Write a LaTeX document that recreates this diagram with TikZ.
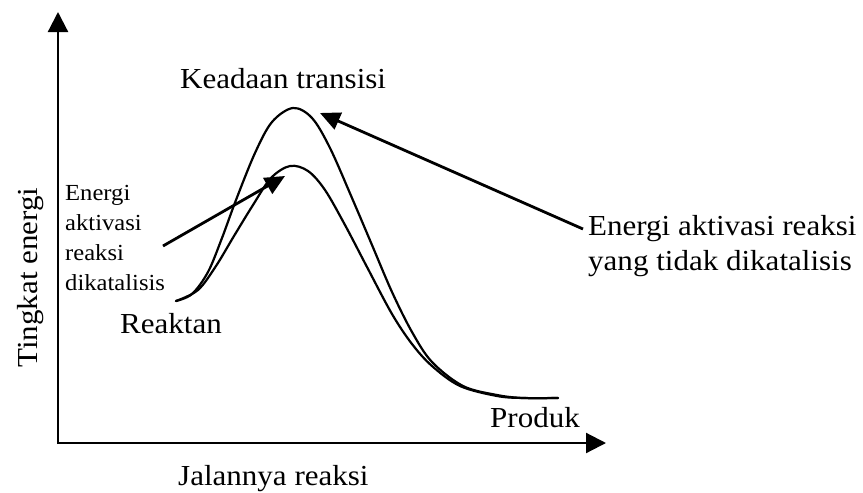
\documentclass[tikz,border=0pt]{standalone}
\usepackage{fontspec}
\setmainfont{Liberation Serif}[FakeStretch=1.07]
\usetikzlibrary{arrows.meta}
\begin{document}
\begin{tikzpicture}[x=1pt,y=-1pt,
  big/.style={font=\fontsize{29}{30}\selectfont, inner sep=0pt, anchor=base west},
  small/.style={font=\fontsize{23}{24}\selectfont, inner sep=0pt, anchor=base west},
  axis/.style={line width=2.2pt, -{Triangle[length=20pt,width=20pt]}},
  pointer/.style={line width=2.8pt, -{Triangle[length=20pt,width=18pt]}},
  curve/.style={line width=2.2pt, line join=round, line cap=round}]
\useasboundingbox (0,0) rectangle (863,493);
% axes
\coordinate (O) at (58,443);
\coordinate (ytip) at (58,12);
\coordinate (xtip) at (606,443);
\draw[axis] (58,444) -- (ytip);
\draw[axis] (57,443) -- (xtip);
% uncatalysed curve
\draw[curve] plot[smooth, tension=0.55] coordinates {(176,301) (192,294) (208,272) (222,238) (236,200) (255,153) (272,122) (293,108) (312,118) (330,148) (352,198) (372,245) (392,292) (412,332) (432,362) (463,386) (497,395) (523,398) (558,398)};
% catalysed curve
\draw[curve] plot[smooth, tension=0.55] coordinates {(176,301) (198,290) (216,266) (234,236) (253,205) (271,178) (290,166) (308,171) (325,190) (345,225) (367,267) (392,314) (412,344) (432,366) (460,386) (497,396) (523,398) (558,398)};
% labels
\node[big] (kt) at (180,88) {Keadaan transisi};
\node[big, rotate=90] (te) at (37,368) {Tingkat energi};
\node[big] (jr) at (178,485) {Jalannya reaksi};
\node[big] (re) at (120,333) {Reaktan};
\node[big] (pr) at (490,427) {Produk};
\node[big] (u1) at (588,235) {Energi aktivasi reaksi};
\node[big] (u2) at (588,270) {yang tidak dikatalisis};
\node[small] (c1) at (65,200) {Energi};
\node[small] (c2) at (65,230) {aktivasi};
\node[small] (c3) at (65,260) {reaksi};
\node[small] (c4) at (65,290) {dikatalisis};
% pointers
\coordinate (ctail) at (163,246);
\coordinate (ctip) at (285,176);
\coordinate (utail) at (583,229);
\coordinate (utip) at (320,113);
\draw[pointer] (ctail) -- (ctip);
\draw[pointer] (utail) -- (utip);
\end{tikzpicture}
\end{document}
